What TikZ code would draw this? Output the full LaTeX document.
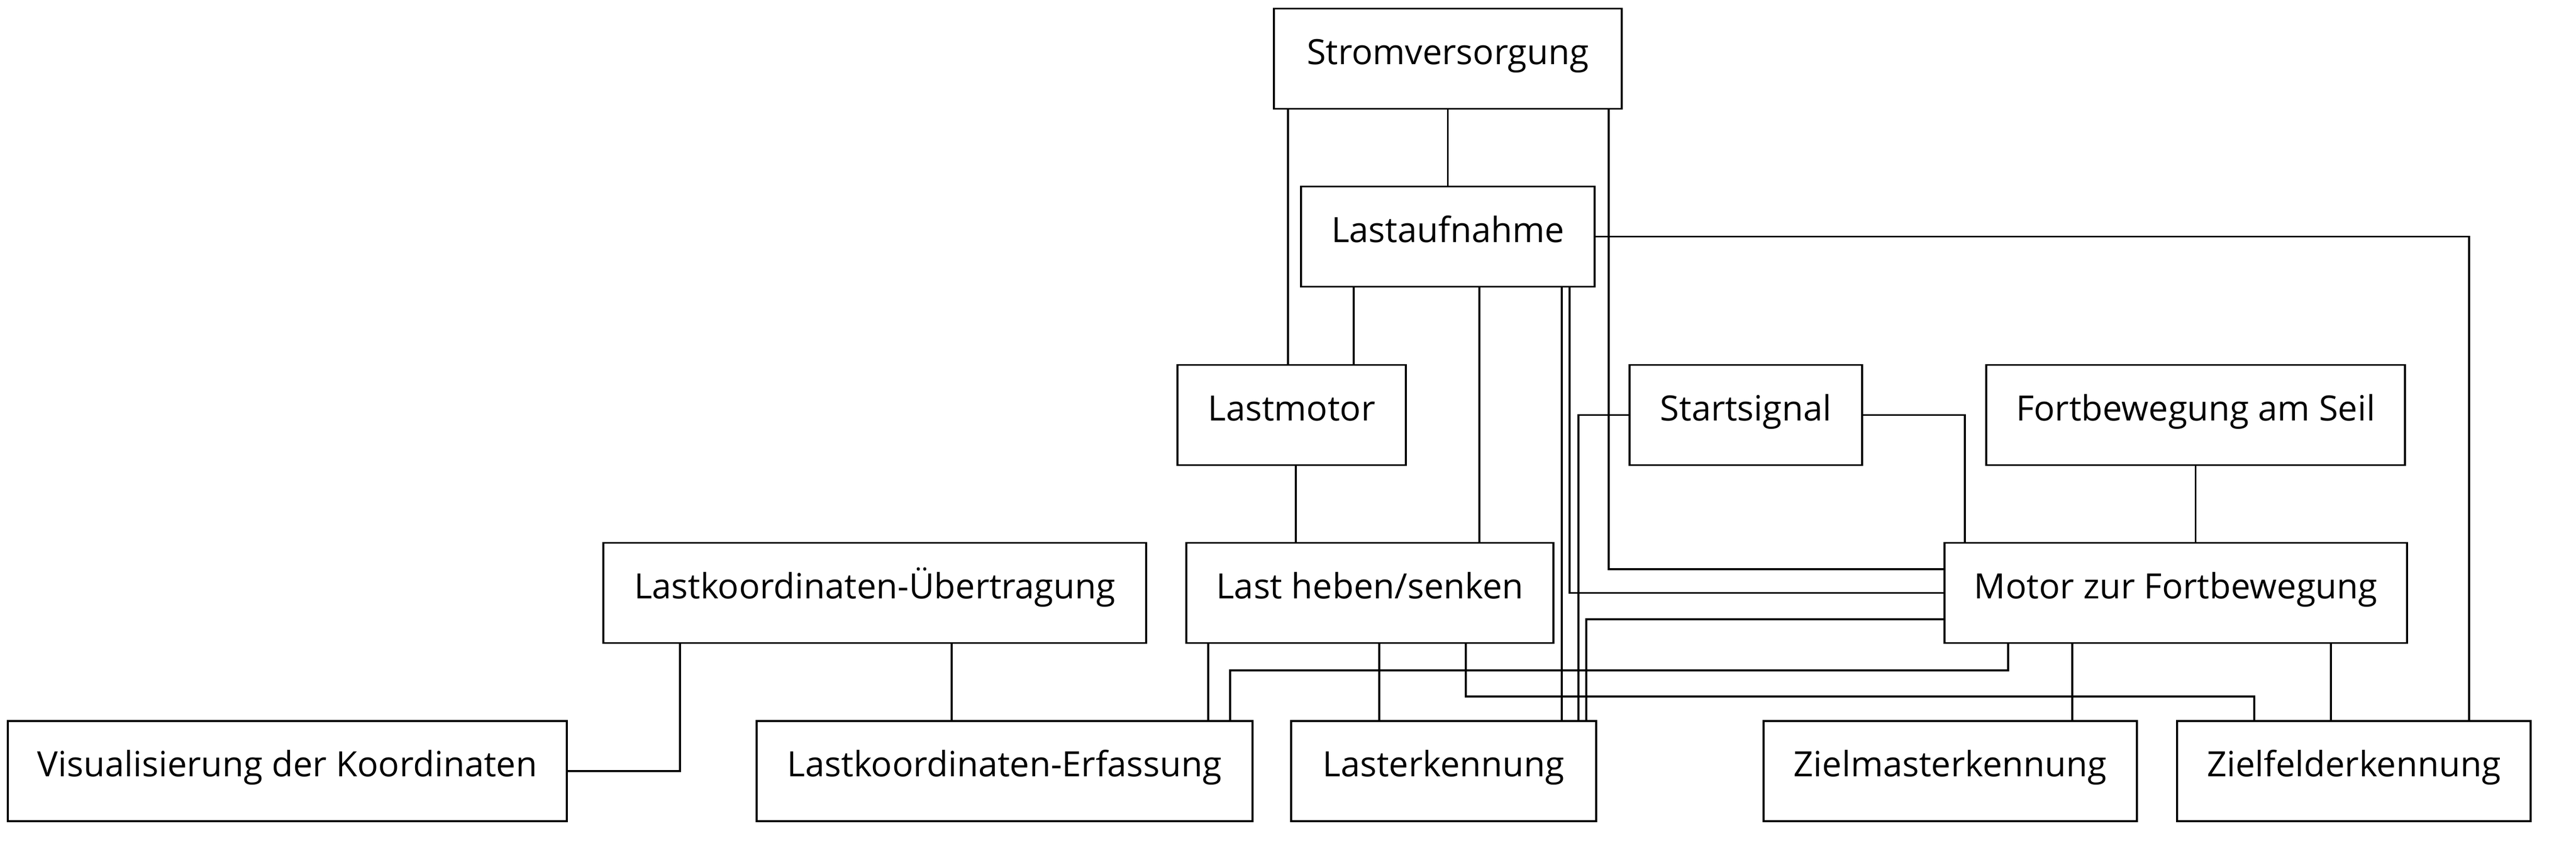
\documentclass[tikz,border=0pt]{standalone}
\usepackage{fontspec}
\setmainfont{Open Sans}
\usepackage{tikz}
\usetikzlibrary{positioning}

\begin{document}
\begin{tikzpicture}[
    block/.style={draw, line width=1pt, minimum height=1.92cm, inner sep=0pt, text height=0.78em, text depth=0.18em, font=\fontsize{19}{22}\selectfont},
    wire/.style={line width=1pt}
]
    \useasboundingbox (0,0) rectangle (49.40,-16.58);
    % Zeile 1 und 2
    \node[block, minimum width=6.67cm] (strom) at (27.765,-1.125) {Stromversorgung};
    \node[block, minimum width=5.63cm] (aufn) at (27.765,-4.535) {Lastaufnahme};
    % Zeile 3
    \node[block, minimum width=4.38cm] (lmot) at (24.77,-7.955) {Lastmotor};
    \node[block, minimum width=4.46cm] (start) at (33.48,-7.955) {Startsignal};
    \node[block, minimum width=8.03cm] (seil) at (42.105,-7.955) {Fortbewegung am Seil};
    % Zeile 4
    \node[block, minimum width=10.41cm] (uebert) at (16.775,-11.365) {Lastkoordinaten-Übertragung};
    \node[block, minimum width=7.04cm] (heben) at (26.27,-11.365) {Last heben/senken};
    \node[block, minimum width=8.87cm] (fmot) at (41.725,-11.365) {Motor zur Fortbewegung};
    % Zeile 5
    \node[block, minimum width=10.72cm] (visu) at (5.51,-14.78) {Visualisierung der Koordinaten};
    \node[block, minimum width=9.51cm] (erf) at (19.265,-14.78) {Lastkoordinaten-Erfassung};
    \node[block, minimum width=5.85cm] (lerk) at (27.685,-14.78) {Lasterkennung};
    \node[block, minimum width=7.16cm] (zmast) at (37.40,-14.78) {Zielmasterkennung};
    \node[block, minimum width=6.78cm] (zfeld) at (45.14,-14.78) {Zielfelderkennung};

    % Stromversorgung
    \draw[wire] ([xshift=-3.065cm]strom.south) -- ([xshift=-3.065cm]strom.south |- lmot.north);
    \draw[wire] (strom.south) -- (aufn.north);
    \draw[wire] ([xshift=3.085cm]strom.south) |- ([yshift=0.455cm]fmot.west);
    % Lastaufnahme
    \draw[wire] ([xshift=-1.805cm]aufn.south) -- ([xshift=-1.805cm]aufn.south |- lmot.north);
    \draw[wire] ([xshift=0.605cm]aufn.south) -- ([xshift=0.605cm]aufn.south |- heben.north);
    \draw[wire] ([xshift=2.185cm]aufn.south) -- ([xshift=2.185cm]aufn.south |- lerk.north);
    \draw[wire] ([xshift=2.335cm]aufn.south) |- (fmot.west);
    \draw[wire] (aufn.east) -| ([xshift=2.21cm]zfeld.north);
    % Startsignal, Seil
    \draw[wire] (start.west) -| ([xshift=2.585cm]lerk.north);
    \draw[wire] (start.east) -| ([xshift=-4.045cm]fmot.north);
    \draw[wire] (seil.south) -- (seil.south |- fmot.north);
    \draw[wire] ([xshift=0.08cm]lmot.south) -- ([xshift=0.08cm]lmot.south |- heben.north);
    % Motor zur Fortbewegung
    \draw[wire] ([yshift=-0.505cm]fmot.west) -| ([xshift=2.735cm]lerk.north);
    \draw[wire] ([xshift=-3.215cm]fmot.south) -- ++(0,-0.505) -| ([xshift=4.325cm]erf.north);
    \draw[wire] ([xshift=-1.985cm]fmot.south) -- ([xshift=-1.985cm]fmot.south |- zmast.north);
    \draw[wire] ([xshift=2.975cm]fmot.south) -- ([xshift=2.975cm]fmot.south |- zfeld.north);
    % Last heben/senken
    \draw[wire] ([xshift=-3.10cm]heben.south) -- ([xshift=-3.10cm]heben.south |- erf.north);
    \draw[wire] ([xshift=0.18cm]heben.south) -- ([xshift=0.18cm]heben.south |- lerk.north);
    \draw[wire] ([xshift=1.84cm]heben.south) -- ++(0,-1.005) -| ([xshift=-1.91cm]zfeld.north);
    % Lastkoordinaten-Übertragung
    \draw[wire] ([xshift=-3.735cm]uebert.south) |- (visu.east);
    \draw[wire] ([xshift=1.475cm]uebert.south) -- ([xshift=1.475cm]uebert.south |- erf.north);
\end{tikzpicture}
\end{document}
